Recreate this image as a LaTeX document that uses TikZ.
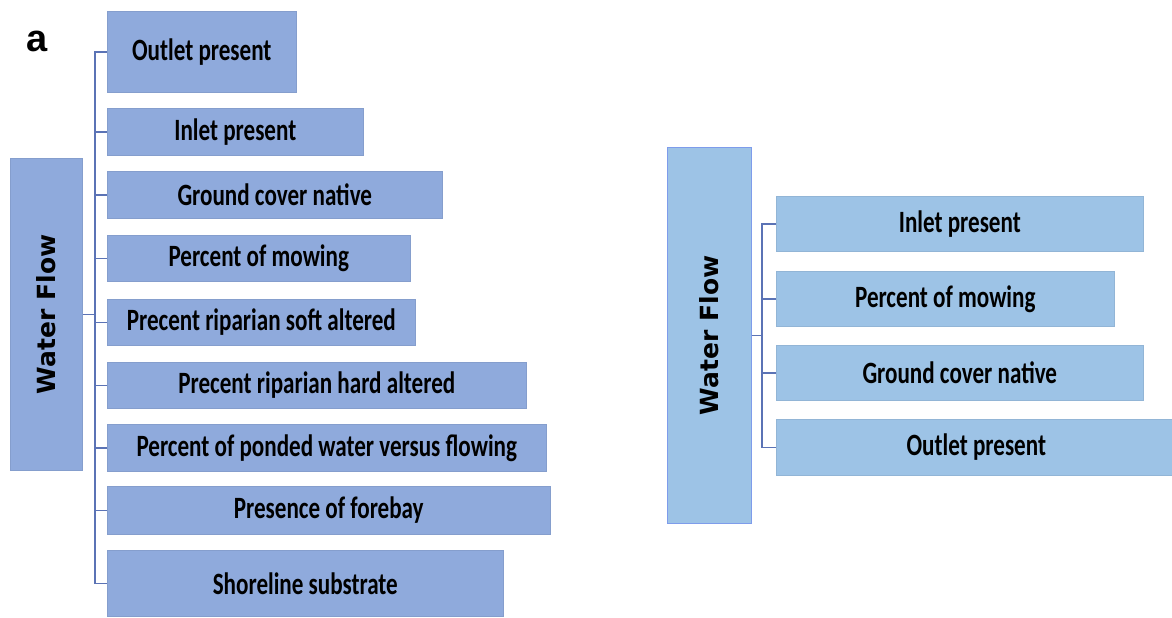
\documentclass[tikz,border=0pt]{standalone}
\usepackage{fontspec}
\setmainfont{Carlito}
\newfontfamily\boxfont{Carlito}[FakeStretch=0.745]
\newfontfamily\wffont{DejaVu Sans}
\newfontfamily\tagfont{Liberation Sans}
\usepackage{tikz}
\usetikzlibrary{positioning}
\definecolor{boxblueA}{HTML}{8FAADC}
\definecolor{boxblueB}{HTML}{9DC3E6}
\definecolor{brkblue}{HTML}{5B73B5}

\begin{document}
\begin{tikzpicture}[
      x=0.5pt, y=-0.5pt,
      lbox/.style={fill=boxblueA, draw=boxblueA!93!black, line width=0.3pt,
                   inner sep=0pt, anchor=north west,
                   font=\boxfont\bfseries\fontsize{15.5}{17}\selectfont},
      rbox/.style={lbox, fill=boxblueB, draw=boxblueB!93!black},
      wfbox/.style={lbox, font=\wffont\bfseries\fontsize{12.5}{14}\selectfont},
      brk/.style={draw=brkblue, line width=0.8pt}
    ]
    \useasboundingbox (0,0) rectangle (1172,617);
    \node[font=\tagfont\bfseries\fontsize{19}{21}\selectfont] (tagA) at (37,41) {a};
    % panel a, left
    \node[wfbox, minimum width=36pt, minimum height=156pt] (wfA) at (10,158) {\rotatebox{90}{Water Flow}};
    \node[lbox, minimum width=94.5pt,  minimum height=40.5pt] (outletA) at (107,11)  {Outlet present};
    \node[lbox, minimum width=128pt,   minimum height=23.5pt] (inletA)  at (107,108) {Inlet present};
    \node[lbox, minimum width=167.5pt, minimum height=23.5pt] (groundA) at (107,171) {Ground cover native};
    \node[lbox, minimum width=151.5pt, minimum height=23pt]   (mowA)    at (107,235) {Percent of mowing};
    \node[lbox, minimum width=154pt,   minimum height=23pt]   (softA)   at (107,299) {Precent riparian soft altered};
    \node[lbox, minimum width=209.5pt, minimum height=23pt]   (hardA)   at (107,362) {Precent riparian hard altered};
    \node[lbox, minimum width=219.5pt, minimum height=23.5pt] (pondA)   at (107,424) {Percent of ponded water versus flowing};
    \node[lbox, minimum width=221.5pt, minimum height=24pt]   (foreA)   at (107,486) {Presence of forebay};
    \node[lbox, minimum width=198pt,   minimum height=33pt]   (shoreA)  at (107,550) {Shoreline substrate};
    \draw[brk] (outletA.west) -- ++(-12,0) coordinate (spineA) |- (shoreA.west);
    \foreach \n in {inletA,groundA,mowA,softA,hardA,pondA,foreA}
      \draw[brk] (\n.west) -- ++(-12,0);
    \draw[brk] (wfA.east) -- (wfA.east -| spineA);
    % right panel
    \node[wfbox, fill=boxblueB, draw=boxblueB!80!blue, minimum width=42pt, minimum height=188pt] (wfB) at (667,147) {\rotatebox{90}{Water Flow}};
    \node[rbox, minimum width=183.5pt, minimum height=27.5pt] (inletB)  at (776,196) {Inlet present};
    \node[rbox, minimum width=169pt,   minimum height=27.5pt] (mowB)    at (776,271) {Percent of mowing};
    \node[rbox, minimum width=183.5pt, minimum height=27.5pt] (groundB) at (776,345) {Ground cover native};
    \node[rbox, minimum width=200pt,   minimum height=28pt]   (outletB) at (776,419) {Outlet present};
    \draw[brk] (inletB.west) -- ++(-14,0) coordinate (spineB) |- (outletB.west);
    \foreach \n in {mowB,groundB}
      \draw[brk] (\n.west) -- ++(-14,0);
    \draw[brk] (wfB.east) -- (wfB.east -| spineB);
  \end{tikzpicture}
\end{document}
